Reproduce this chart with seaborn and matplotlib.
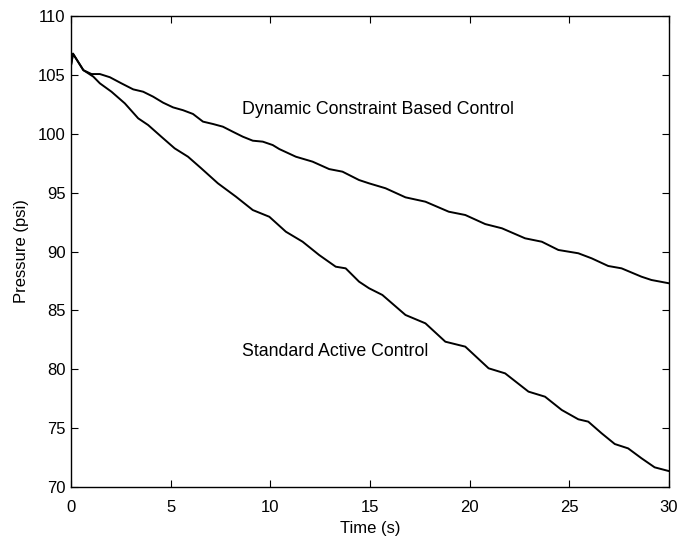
import numpy as np
import pandas as pd
import seaborn as sns
import matplotlib
matplotlib.use('Agg')
import matplotlib.pyplot as plt

#time points and pressure values -- dynamic constraint based control
dyn_time = [0, 0.1, 0.62, 1.03, 1.45, 1.95, 2.53, 3.12, 3.62, 4.12, 4.62, 5.12, 5.62,
            6.12, 6.62, 7.12, 7.62, 8.12, 8.62, 9.12, 9.62, 10.12, 10.45, 11.28, 12.12,
            12.95, 13.62, 14.45, 14.95, 15.78, 16.78, 17.78, 18.95, 19.78, 20.78, 21.62,
            22.78, 23.62, 24.45, 25.45, 26.12, 26.95, 27.62, 28.62, 29.12, 30]
dyn_pressure = [105.8, 106.8, 105.4, 105.07, 105.07, 104.8, 104.28, 103.77, 103.57, 103.15,
                102.64, 102.24, 102.0, 101.68, 101.03, 100.83, 100.6, 100.17, 99.75, 99.41,
                99.33, 99.04, 98.7, 98.05, 97.63, 97.0, 96.78, 96.07, 95.79, 95.37, 94.6,
                94.23, 93.38, 93.1, 92.33, 91.97, 91.12, 90.83, 90.13, 89.85, 89.42, 88.77,
                88.57, 87.86, 87.58, 87.3]

#standard active control
std_time = [0, 0.1, 0.62, 1.12, 1.45, 2.03, 2.7, 3.37, 3.87, 4.53, 5.2, 5.87, 6.53, 7.37,
            8.28, 9.12, 9.95, 10.78, 11.62, 12.45, 13.28, 13.78, 14.45, 14.95, 15.62, 16.78,
            17.78, 18.78, 19.78, 20.95, 21.78, 22.95, 23.78, 24.62, 25.45, 25.95, 26.62,
            27.28, 27.95, 28.62, 29.28, 30]
std_pressure = [105.8, 106.8, 105.4, 104.85, 104.28, 103.57, 102.58, 101.31, 100.74, 99.75,
                98.76, 98.05, 97.07, 95.79, 94.65, 93.52, 92.95, 91.68, 90.83, 89.7, 88.71,
                88.57, 87.44, 86.88, 86.31, 84.61, 83.9, 82.34, 81.92, 80.08, 79.65, 78.1,
                77.67, 76.54, 75.75, 75.55, 74.56, 73.65, 73.28, 72.44, 71.67, 71.35]

x_ticks = [0, 5, 10, 15, 20, 25, 30]
y_ticks = [70, 75, 80, 85, 90, 95, 100, 105, 110]

sns.set_style('ticks')
plt.rcParams['font.family'] = ['Liberation Sans', 'DejaVu Sans']
plt.rcParams['text.color'] = 'black'
plt.rcParams['axes.labelcolor'] = 'black'

fig = plt.figure(figsize=(6.79, 5.41), dpi=100)
ax = fig.add_axes([71 / 679, 54 / 541, 598 / 679, 471 / 541])

df_dyn = pd.DataFrame({'t': dyn_time, 'p': dyn_pressure})
df_std = pd.DataFrame({'t': std_time, 'p': std_pressure})

sns.lineplot(data=df_dyn, x='t', y='p', color='black', lw=1.4, ax=ax, estimator=None)
sns.lineplot(data=df_std, x='t', y='p', color='black', lw=1.4, ax=ax, estimator=None)

#curve annotations
ax.text(8.6, 102.1, 'Dynamic Constraint Based Control', fontsize=12.8, va='center', ha='left')
ax.text(8.6, 81.5, 'Standard Active Control', fontsize=12.8, va='center', ha='left')

ax.set_xlim(0, 30)
ax.set_ylim(70, 110)
ax.set_xticks(x_ticks)
ax.set_yticks(y_ticks)
ax.tick_params(direction='in', length=5, width=0.8, top=True, right=True,
               labelsize=12, colors='black')
ax.tick_params(axis='x', pad=9)
ax.tick_params(axis='y', pad=4)
for sp in ax.spines.values():
    sp.set_visible(True)
    sp.set_linewidth(1.0)
    sp.set_color('black')

ax.set_xlabel('Time (s)', fontsize=12, labelpad=5)
ax.set_ylabel('Pressure (psi)', fontsize=12, labelpad=6)

fig.savefig('out.png', dpi=100)
